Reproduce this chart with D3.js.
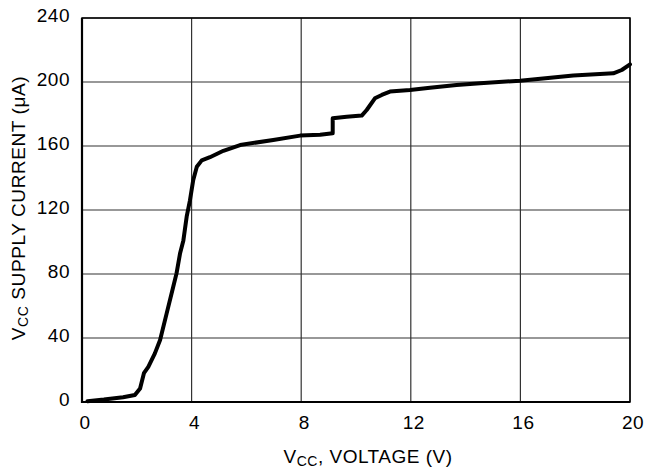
<!DOCTYPE html>
<html><head><meta charset="utf-8">
<script src="https://cdn.jsdelivr.net/npm/d3@7"></script>
<style>body{margin:0;background:#fff}svg{display:block}text{font-family:"Liberation Sans",Arial,sans-serif;fill:#000}</style>
</head><body><svg id="c" width="647" height="470"></svg>
<script>
const voltage = [0.2,0.8,1.5,1.93,2.12,2.26,2.42,2.66,2.85,3.09,3.33,3.45,3.58,3.70,3.82,3.94,4.06,4.19,4.37,4.67,5.16,5.77,6.98,7.96,8.69,9.15,9.15,9.66,10.21,10.39,10.69,10.94,11.24,11.97,12.7,13.67,14.53,15.99,17.93,19.39,19.7,20];
const current = [0.5,1.5,3,4.4,8.5,18,22,30.4,38.8,55.4,72,80.4,93,101,115.8,126,138.8,147,151,153,157,160.6,163.8,166.5,167,168,177.3,178.3,179,182.5,189.8,191.9,194,195,196.4,198.1,199.2,200.8,204,205.4,207.5,211];
const xTicks = [0,4,8,12,16,20];
const yTicks = [0,40,80,120,160,200,240];

const svg = d3.select("#c");
const x = d3.scaleLinear().domain([0,20]).range([82,630]);
const y = d3.scaleLinear().domain([0,240]).range([402,18]);

// grid
svg.append("g").selectAll("line").data(xTicks).join("line")
  .attr("x1",d=>x(d)).attr("x2",d=>x(d)).attr("y1",y(0)).attr("y2",y(240))
  .attr("stroke","#333").attr("stroke-width",1.2);
svg.append("g").selectAll("line").data(yTicks).join("line")
  .attr("x1",x(0)).attr("x2",x(20)).attr("y1",d=>y(d)).attr("y2",d=>y(d))
  .attr("stroke","#333").attr("stroke-width",1.2);
// frame
svg.append("rect").attr("x",x(0)).attr("y",y(240)).attr("width",x(20)-x(0)).attr("height",y(0)-y(240))
  .attr("fill","none").attr("stroke","#000").attr("stroke-width",1.5);
svg.append("line").attr("x1",x(0)).attr("x2",x(0)).attr("y1",y(0)+1).attr("y2",y(240)).attr("stroke","#000").attr("stroke-width",2.2);
svg.append("line").attr("x1",x(0)).attr("x2",x(20)).attr("y1",y(0)).attr("y2",y(0)).attr("stroke","#000").attr("stroke-width",2.2);

// tick labels
svg.append("g").selectAll("text").data(xTicks).join("text")
  .attr("x",d=>x(d)+3).attr("y",429).attr("text-anchor","middle").attr("font-size",19).attr("letter-spacing",0.5).text(d=>d);
svg.append("g").selectAll("text").data(yTicks).join("text")
  .attr("x",70).attr("y",d=>y(d)+4).attr("text-anchor","end").attr("font-size",19).attr("letter-spacing",0.5).text(d=>d);

// curve
const pts = voltage.map((v,i)=>[v,current[i]]);
svg.append("path").datum(pts)
  .attr("d",d3.line().x(d=>x(d[0])).y(d=>y(d[1])))
  .attr("fill","none").attr("stroke","#000").attr("stroke-width",4).attr("stroke-linejoin","round").attr("stroke-linecap","round");

// axis titles
const xt = svg.append("text").attr("x",368).attr("y",463).attr("text-anchor","middle").attr("font-size",19).attr("letter-spacing",0.5);
xt.append("tspan").text("V");
xt.append("tspan").attr("font-size",14).attr("dy",3).text("CC");
xt.append("tspan").attr("dy",-3).text(", VOLTAGE (V)");

const yt = svg.append("text").attr("transform","translate(25,208) rotate(-90)").attr("text-anchor","middle").attr("font-size",19).attr("letter-spacing",0.6);
yt.append("tspan").text("V");
yt.append("tspan").attr("font-size",14).attr("dy",3).text("CC");
yt.append("tspan").attr("dy",-3).text(" SUPPLY CURRENT (μA)");
</script></body></html>
